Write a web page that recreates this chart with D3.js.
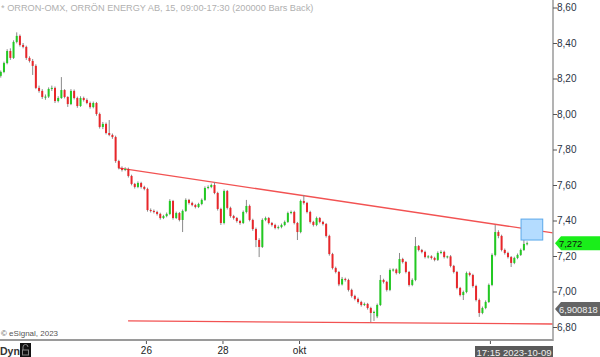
<!DOCTYPE html>
<html><head><meta charset="utf-8">
<script src="https://cdn.jsdelivr.net/npm/d3@7"></script>
<style>
html,body{margin:0;padding:0;background:#fff;}
svg{display:block;font-family:"Liberation Sans",Arial,sans-serif;}
</style></head>
<body><svg id="c" width="600" height="357"></svg>
<script>
// ---- DATA ----
const title = "* ORRON-OMX, ORRÖN ENERGY AB, 15, 09:00-17:30 (200000 Bars Back)";
const firstBar = 2;            // first visible bar index (from start of 20 Sep)
const barsPerDay = 12;
// [open, high, low, close]
const ohlc = [
[8.215,8.245,8.205,8.237],[8.237,8.295,8.230,8.287],[8.287,8.365,8.280,8.355],[8.355,8.370,8.305,8.316],
[8.316,8.415,8.310,8.406],[8.406,8.460,8.398,8.440],[8.440,8.448,8.380,8.389],[8.389,8.400,8.370,8.378],
[8.378,8.385,8.305,8.316],[8.316,8.325,8.290,8.299],[8.299,8.310,8.220,8.271],[8.271,8.280,8.140,8.147],
[8.147,8.160,8.120,8.130],[8.130,8.140,8.085,8.096],[8.092,8.110,8.080,8.098],[8.098,8.150,8.090,8.141],
[8.141,8.160,8.130,8.147],[8.147,8.155,8.062,8.073],[8.073,8.100,8.065,8.090],[8.090,8.208,8.085,8.135],
[8.135,8.140,8.088,8.096],[8.096,8.100,8.040,8.056],[8.056,8.140,8.050,8.130],[8.130,8.138,8.082,8.090],
[8.090,8.098,8.035,8.045],[8.045,8.100,8.040,8.090],[8.090,8.098,8.070,8.079],[8.079,8.088,8.055,8.062],
[8.062,8.070,8.030,8.039],[8.039,8.070,8.032,8.062],[8.062,8.068,7.990,8.000],[8.000,8.008,7.918,7.927],
[7.927,7.955,7.915,7.944],[7.944,7.952,7.885,7.893],[7.893,7.966,7.875,7.882],[7.882,7.890,7.860,7.870],
[7.870,7.878,7.725,7.735],[7.735,7.742,7.688,7.696],[7.696,7.705,7.676,7.685],[7.685,7.700,7.678,7.690],
[7.690,7.698,7.642,7.651],[7.651,7.658,7.598,7.606],[7.606,7.612,7.580,7.589],[7.589,7.620,7.582,7.611],
[7.611,7.618,7.580,7.589],[7.589,7.596,7.570,7.578],[7.578,7.585,7.450,7.459],[7.459,7.468,7.445,7.454],
[7.454,7.462,7.440,7.448],[7.448,7.455,7.428,7.437],[7.437,7.444,7.405,7.414],[7.414,7.432,7.408,7.425],
[7.425,7.445,7.418,7.437],[7.437,7.520,7.430,7.510],[7.510,7.516,7.405,7.414],[7.414,7.450,7.408,7.442],
[7.442,7.448,7.395,7.403],[7.403,7.462,7.335,7.454],[7.454,7.525,7.448,7.516],[7.516,7.522,7.490,7.499],
[7.499,7.506,7.480,7.487],[7.487,7.494,7.468,7.476],[7.476,7.500,7.470,7.493],[7.493,7.524,7.486,7.516],
[7.516,7.592,7.510,7.583],[7.583,7.598,7.576,7.589],[7.589,7.608,7.582,7.600],[7.600,7.617,7.548,7.555],
[7.555,7.562,7.456,7.465],[7.465,7.472,7.375,7.386],[7.386,7.575,7.378,7.566],[7.566,7.572,7.462,7.471],
[7.471,7.478,7.416,7.425],[7.425,7.432,7.405,7.414],[7.414,7.420,7.388,7.397],[7.397,7.404,7.376,7.386],
[7.386,7.456,7.380,7.448],[7.448,7.516,7.440,7.482],[7.482,7.490,7.395,7.403],[7.403,7.410,7.342,7.352],
[7.352,7.360,7.250,7.290],[7.290,7.300,7.194,7.251],[7.251,7.412,7.245,7.403],[7.403,7.422,7.396,7.414],
[7.414,7.420,7.378,7.386],[7.386,7.392,7.366,7.375],[7.375,7.382,7.350,7.358],[7.358,7.372,7.350,7.363],
[7.363,7.383,7.356,7.375],[7.375,7.400,7.368,7.392],[7.392,7.450,7.386,7.442],[7.442,7.456,7.435,7.448],
[7.448,7.455,7.378,7.386],[7.386,7.392,7.290,7.335],[7.335,7.518,7.328,7.510],[7.510,7.544,7.490,7.499],
[7.499,7.505,7.440,7.448],[7.448,7.455,7.383,7.392],[7.392,7.398,7.366,7.375],[7.375,7.422,7.368,7.414],
[7.414,7.420,7.384,7.392],[7.392,7.398,7.372,7.380],[7.380,7.386,7.304,7.313],[7.313,7.320,7.202,7.211],
[7.211,7.218,7.124,7.132],[7.132,7.140,7.102,7.110],[7.110,7.116,7.030,7.040],[7.040,7.082,7.034,7.071],
[7.071,7.078,7.056,7.065],[7.065,7.072,7.000,7.009],[7.009,7.016,6.966,6.975],[6.975,6.982,6.950,6.958],
[6.958,6.966,6.932,6.941],[6.941,6.948,6.915,6.924],[6.924,6.938,6.918,6.930],[6.930,6.936,6.898,6.907],
[6.907,6.914,6.828,6.879],[6.879,6.892,6.834,6.885],[6.860,6.932,6.850,6.924],[6.924,7.093,6.918,7.065],
[7.065,7.072,7.045,7.054],[7.054,7.060,7.000,7.009],[7.009,7.130,7.002,7.121],[7.121,7.130,7.112,7.124],
[7.124,7.130,7.096,7.104],[7.104,7.217,7.098,7.183],[7.183,7.190,7.158,7.166],[7.166,7.172,7.102,7.110],
[7.110,7.116,7.028,7.037],[7.037,7.074,7.030,7.065],[7.065,7.307,7.058,7.256],[7.256,7.262,7.226,7.234],
[7.234,7.240,7.215,7.223],[7.223,7.230,7.186,7.194],[7.194,7.205,7.186,7.198],[7.198,7.204,7.180,7.189],
[7.189,7.196,7.170,7.178],[7.178,7.226,7.172,7.217],[7.217,7.232,7.210,7.223],[7.223,7.230,7.186,7.194],
[7.194,7.202,7.186,7.198],[7.198,7.205,7.136,7.144],[7.144,7.150,7.102,7.110],[7.110,7.116,7.012,7.020],
[7.020,7.026,6.972,6.980],[6.980,7.005,6.952,6.997],[6.997,7.112,6.990,7.104],[7.104,7.112,7.085,7.093],
[7.093,7.100,7.022,7.031],[7.031,7.038,6.944,6.952],[6.952,6.960,6.857,6.879],[6.879,6.915,6.872,6.907],
[6.907,6.950,6.900,6.941],[6.941,7.045,6.935,7.037],[7.037,7.215,7.030,7.206],[7.206,7.375,7.198,7.335],
[7.335,7.345,7.300,7.313],[7.313,7.320,7.226,7.234],[7.234,7.242,7.208,7.217],[7.217,7.224,7.186,7.194],
[7.194,7.200,7.138,7.161],[7.161,7.196,7.154,7.189],[7.189,7.214,7.182,7.206],[7.206,7.242,7.200,7.234],
[7.234,7.296,7.228,7.268],[7.268,7.282,7.260,7.272]
];
const priceTicks = [6.8,7.0,7.2,7.4,7.6,7.8,8.0,8.2,8.4,8.6];
const dayTicks = [{bar:48,label:"26"},{bar:72,label:"28"},{bar:96,label:"okt"}];
const lastDayBar = 156;
const lastTimeLabel = "17:15 2023-10-09";
const lastPrice = 7.272;
const markerPrice = 6.900818;
// trend lines: [bar, price] endpoints
const trendUpper = [[39.25,7.696],[175.6,7.330]];
const trendLower = [[42.4,6.834],[175.6,6.817]];
// highlight box: bars and prices
const boxBars = [165.6,172.4];
const boxPrices = [7.290,7.408];

// ---- CHART ----
const svg = d3.select("#c");
const W = 600, H = 357, axisX = 553, axisY = 340;
const y = d3.scaleLinear().domain([6.8,8.6]).range([327,7.5]);
const x = d3.scaleLinear().domain([0,168]).range([-7.2,528.7]);
const fmt = v => v.toFixed(2).replace(".", ",");

svg.append("rect").attr("width",W).attr("height",H).attr("fill","#fff");
svg.append("defs").append("clipPath").attr("id","plot")
  .append("rect").attr("x",0).attr("y",0).attr("width",axisX).attr("height",axisY);

svg.append("text").attr("x",1).attr("y",11).attr("font-size",9.2).attr("fill","#b0b0b0").text(title);

const plot = svg.append("g").attr("clip-path","url(#plot)");

// trend lines
const line = d3.line().x(d=>x(d[0])).y(d=>y(d[1]));
[trendUpper, trendLower].forEach(t=>{
  plot.append("path").attr("d",line(t)).attr("fill","none").attr("stroke","#f25252").attr("stroke-width",1.3);
});

// candles
const cw = 2;
const g = plot.append("g");
ohlc.forEach((d,i)=>{
  const cx = x(firstBar + i + 0.5);
  const [o,h,l,c] = d;
  g.append("line").attr("x1",cx).attr("x2",cx).attr("y1",y(h)).attr("y2",y(l))
    .attr("stroke","#8a8a8a").attr("stroke-width",1);
  const top = y(Math.max(o,c)), bot = y(Math.min(o,c));
  g.append("rect").attr("x",cx-cw/2).attr("y",top).attr("width",cw).attr("height",Math.max(1,bot-top))
    .attr("fill", c>=o ? "#22c922" : "#e8262a");
});

// highlight box
plot.append("rect")
  .attr("x",x(boxBars[0])).attr("y",y(boxPrices[1]))
  .attr("width",x(boxBars[1])-x(boxBars[0])).attr("height",y(boxPrices[0])-y(boxPrices[1]))
  .attr("fill","#b4dcff").attr("stroke","#5aa8ea").attr("stroke-width",1);

// axes lines
svg.append("line").attr("x1",axisX).attr("x2",axisX).attr("y1",0).attr("y2",axisY+1)
  .attr("stroke","#9a9a9a").attr("stroke-width",1.5);
svg.append("line").attr("x1",0).attr("x2",axisX).attr("y1",axisY).attr("y2",axisY)
  .attr("stroke","#9a9a9a").attr("stroke-width",2);

// right axis
const ya = svg.append("g").attr("transform",`translate(${axisX},0)`)
  .call(d3.axisRight(y).tickValues(priceTicks).tickSize(4).tickPadding(0).tickFormat(fmt));
ya.select(".domain").remove();
ya.selectAll(".tick line").attr("stroke","#555");
ya.selectAll(".tick text").attr("font-size",10).attr("fill","#2b3445").attr("font-family","Liberation Sans, Arial, sans-serif");

// bottom axis
const xa = svg.append("g").attr("transform",`translate(0,${axisY+1})`)
  .call(d3.axisBottom(x).tickValues(dayTicks.map(d=>d.bar)).tickSize(3).tickPadding(3)
    .tickFormat(b => dayTicks.find(d=>d.bar===b).label));
xa.select(".domain").remove();
xa.selectAll(".tick line").attr("stroke","#555");
xa.selectAll(".tick text").attr("font-size",10).attr("fill","#222").attr("font-family","Liberation Sans, Arial, sans-serif");
svg.append("line").attr("x1",x(lastDayBar)).attr("x2",x(lastDayBar)).attr("y1",axisY+1).attr("y2",axisY+4).attr("stroke","#555");

// last time label
svg.append("rect").attr("x",475).attr("y",346).attr("width",axisX-475).attr("height",11).attr("fill","#5a5a5a");
svg.append("text").attr("x",(475+axisX)/2).attr("y",355.5).attr("text-anchor","middle")
  .attr("font-size",9.5).attr("fill","#f0f0f0").text(lastTimeLabel);

// price labels
function priceTag(p, fill, txtColor, label){
  const yy = y(p);
  svg.append("path").attr("d",`M555,${yy} L561,${yy-7} L600,${yy-7} L600,${yy+7} L561,${yy+7} Z`).attr("fill",fill);
  svg.append("text").attr("x",559).attr("y",yy+3.4).attr("font-size",9.3).attr("fill",txtColor).text(label);
}
priceTag(lastPrice,"#1aee1a","#111",lastPrice.toFixed(3).replace(".",","));
priceTag(markerPrice,"#646464","#f2f2f2",markerPrice.toFixed(6).replace(".",","));

// footer
svg.append("text").attr("x",1).attr("y",336).attr("font-size",8).attr("fill","#555").text("© eSignal, 2023");
svg.append("text").attr("x",0).attr("y",355).attr("font-size",10.5).attr("font-weight","bold").attr("fill","#333").text("Dyn");
svg.append("rect").attr("x",20).attr("y",343).attr("width",11).attr("height",14).attr("fill","#111");
svg.append("path").attr("d","M23,350 v-3 a2.5,2.5 0 0 1 5,0").attr("fill","none").attr("stroke","#888").attr("stroke-width",1);
svg.append("rect").attr("x",22.5).attr("y",350).attr("width",6).attr("height",5).attr("fill","none").attr("stroke","#888").attr("stroke-width",1);
</script></body></html>
